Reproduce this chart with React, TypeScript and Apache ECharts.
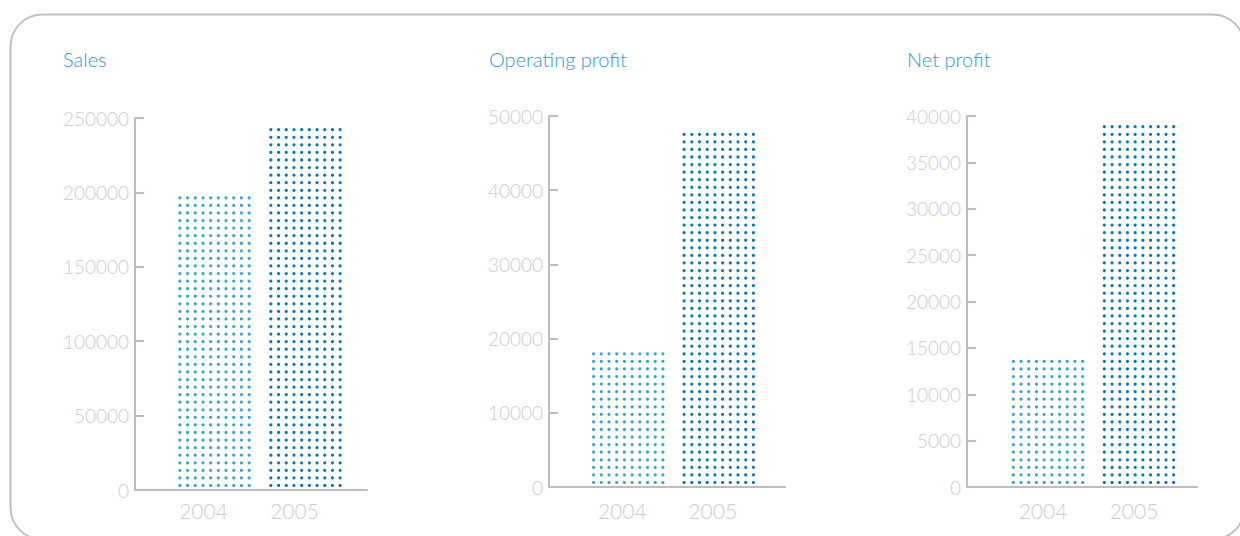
import React, { useEffect, useRef } from 'react';
import * as echarts from 'echarts';

// Financial figures per year
const years = ['2004', '2005'];
const salesValues = [197000, 244000];
const operatingProfitValues = [18000, 47700];
const netProfitValues = [13700, 38900];

// Y axis scales
const salesScale = { max: 250000, interval: 50000 };
const operatingProfitScale = { max: 50000, interval: 10000 };
const netProfitScale = { max: 40000, interval: 5000 };

const dotColors = ['#3aa5d0', '#0a78b2'];
const axisColor = '#bdbdc1';
const labelColor = '#cdcdcd';
const titleColor = '#3399cc';
const fontFamily = 'Lato, "Open Sans", sans-serif';

// Dot-matrix fill geometry
const DOT_COLS = 10;
const COL_PITCH = 7.7;
const ROW_PITCH = 7.57;
const DOT_R = 1.6;
const BASE_GAP = 4.5;

const panels = [
  {
    title: 'Sales', values: salesValues, scale: salesScale,
    titleLeft: 63, axisLeft: 135, top: 118, baseline: 490, axisWidth: 232,
    barLeft: 169, barWidth: 182, labelMargin: 10, labelShift: 22,
  },
  {
    title: 'Operating profit', values: operatingProfitValues, scale: operatingProfitScale,
    titleLeft: 489, axisLeft: 549, top: 116, baseline: 487, axisWidth: 236,
    barLeft: 583, barWidth: 181, labelMargin: 13, labelShift: 12,
  },
  {
    title: 'Net profit', values: netProfitValues, scale: netProfitScale,
    titleLeft: 907, axisLeft: 967, top: 116, baseline: 487, axisWidth: 230,
    barLeft: 1002.5, barWidth: 182, labelMargin: 13, labelShift: 10,
  },
];

function dotRenderItem(params: any, api: any) {
  const idx = api.value(0);
  const val = api.value(1);
  const base = api.coord([idx, 0]);
  const top = api.coord([idx, val]);
  const bottomY = base[1] - BASE_GAP;
  const rows = Math.floor((bottomY - top[1]) / ROW_PITCH) + 1;
  const fill = dotColors[params.dataIndex % dotColors.length];
  const children: any[] = [];
  for (let r = 0; r < rows; r++) {
    for (let c = 0; c < DOT_COLS; c++) {
      children.push({
        type: 'circle',
        shape: {
          cx: base[0] + (c - (DOT_COLS - 1) / 2) * COL_PITCH,
          cy: bottomY - r * ROW_PITCH,
          r: DOT_R,
        },
        style: { fill },
        silent: true,
      });
    }
  }
  return { type: 'group', children };
}

function buildOption() {
  const grid: any[] = [];
  const xAxis: any[] = [];
  const yAxis: any[] = [];
  const series: any[] = [];
  const title: any[] = [];

  panels.forEach((p, i) => {
    const height = p.baseline - p.top;
    title.push({
      text: p.title,
      left: p.titleLeft,
      top: 49,
      padding: 0,
      textStyle: { color: titleColor, fontSize: 20, fontWeight: 300, fontFamily },
    });

    // frame grid: visible axes
    grid.push({ left: p.axisLeft, top: p.top, width: p.axisWidth, height });
    xAxis.push({
      type: 'value', gridIndex: 2 * i, min: 0, max: 1,
      axisLine: { show: true, lineStyle: { color: axisColor, width: 2 } },
      axisTick: { show: false }, axisLabel: { show: false }, splitLine: { show: false },
    });
    yAxis.push({
      type: 'value', gridIndex: 2 * i, min: 0, max: p.scale.max, interval: p.scale.interval,
      axisLine: { show: true, lineStyle: { color: axisColor, width: 2 } },
      axisTick: { show: true, inside: true, length: 9, lineStyle: { color: axisColor, width: 2 } },
      axisLabel: {
        color: labelColor, fontSize: 19, fontWeight: 300, fontFamily, margin: 6,
        formatter: (v: number) => String(v),
      },
      splitLine: { show: false },
    });

    // bar grid: category bands holding the dot columns
    grid.push({ left: p.barLeft, top: p.top, width: p.barWidth, height });
    xAxis.push({
      type: 'category', gridIndex: 2 * i + 1, data: years,
      axisLine: { show: false }, axisTick: { show: false }, splitLine: { show: false },
      axisLabel: {
        color: labelColor, fontSize: 21, fontWeight: 300, fontFamily,
        margin: p.labelMargin, padding: [0, p.labelShift, 0, 0],
      },
    });
    yAxis.push({
      type: 'value', gridIndex: 2 * i + 1, min: 0, max: p.scale.max, interval: p.scale.interval,
      show: false,
    });

    series.push({
      type: 'custom',
      xAxisIndex: 2 * i + 1,
      yAxisIndex: 2 * i + 1,
      renderItem: dotRenderItem,
      encode: { x: 0, y: 1 },
      data: p.values.map((v, k) => [k, v]),
    });
  });

  return {
    animation: false,
    backgroundColor: '#ffffff',
    title,
    grid,
    xAxis,
    yAxis,
    series,
    graphic: [
      {
        type: 'rect',
        shape: { x: 10.5, y: 14.5, width: 1234, height: 525, r: 32 },
        style: { fill: 'none', stroke: '#c0c0c4', lineWidth: 2 },
        silent: true,
      },
    ],
  };
}

export default function App() {
  const ref = useRef<HTMLDivElement>(null);
  useEffect(() => {
    if (!ref.current) return;
    const chart = echarts.init(ref.current, undefined, { renderer: 'svg' });
    chart.setOption(buildOption());
    return () => chart.dispose();
  }, []);
  return (
    <div
      ref={ref}
      style={{ position: 'absolute', left: 0, top: 0, width: 1240, height: 536 }}
    />
  );
}
